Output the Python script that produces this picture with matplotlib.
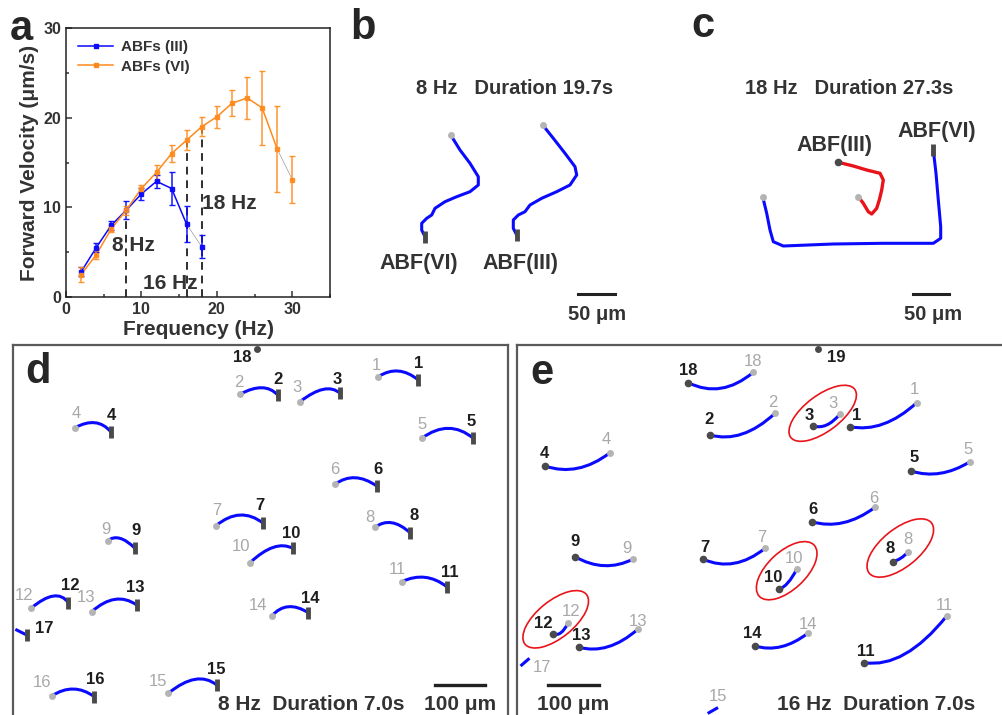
import matplotlib
matplotlib.use("Agg")
import matplotlib.pyplot as plt
from matplotlib import font_manager
from matplotlib.patches import Ellipse, PathPatch
from matplotlib.path import Path
from matplotlib.ticker import MultipleLocator

names = {f.name for f in font_manager.fontManager.ttflist}
SANS = 'Liberation Sans' if 'Liberation Sans' in names else 'DejaVu Sans'
plt.rcParams['font.family'] = [SANS, 'DejaVu Sans']

W, H = 1002, 715
TXT = '#333333'
BLUE = '#0a0aff'
ORANGE = '#ff8a1c'
RED = '#e8141a'
GRAY_END = '#b4b4b4'
DARK_END = '#4a4a4a'

# ---- panel a : forward velocity vs frequency
freq_iii = [2, 4, 6, 8, 10, 12, 14, 16, 18]
vel_iii = [2.8, 5.5, 8.0, 9.7, 11.5, 12.9, 12.1, 8.1, 5.6]
err_iii = [0.5, 0.5, 0.5, 1.0, 0.7, 0.7, 1.8, 2.0, 1.3]
freq_vi = [2, 4, 6, 8, 10, 12, 14, 16, 18, 20, 22, 24, 26, 28, 30]
vel_vi = [2.5, 4.7, 7.6, 9.7, 12.1, 13.9, 16.0, 17.5, 19.0, 20.1, 21.6, 22.2, 21.1, 16.5, 13.1]
err_vi = [0.8, 0.5, 0.4, 0.5, 0.4, 0.8, 0.95, 1.1, 1.1, 1.25, 1.45, 2.3, 4.1, 4.8, 2.6]
marked_freq = [8, 16, 18]

# ---- panel b / c : trajectories (image pixels)
b_vi = [(450.7, 135), (460, 150), (470, 163.3), (478.3, 176.7), (478.3, 185), (470, 191.7),
        (456.7, 196.7), (445, 201.7), (435, 208.3), (431.7, 215), (426.7, 218.3),
        (421.7, 223.3), (421.7, 230), (425, 236.7)]
b_iii = [(542.7, 125), (553.3, 138.3), (565, 153.3), (575, 166.7), (576.7, 175), (570, 185),
         (556.7, 191.7), (541.7, 198.3), (530, 205), (525, 211.7), (518.3, 215),
         (513.3, 220), (513.3, 228.3), (516.7, 235)]
c_vi = [(762.7, 196.7), (766.7, 213.3), (770, 230), (773.3, 241.7), (783.3, 246), (833.3, 244),
        (883.3, 243.3), (933.3, 243.3), (940.7, 238.3), (940.7, 226.7), (938.3, 200),
        (936, 173.3), (933.3, 150)]
c_iii = [(838.3, 162.3), (853.3, 166), (866.7, 170), (880, 173.3), (883.3, 180), (881.7, 190),
         (879.3, 200), (876.7, 208.3), (871.7, 214), (868.3, 211.7), (863.3, 203.3),
         (858.3, 196.7)]

# ---- panel d : 8 Hz, gray = start, dark = end
d_ids = ['1', '2', '3', '4', '5', '6', '7', '8', '9', '10', '11', '12', '13', '14', '15', '16']
d_start = [(378.3, 376.7), (240, 394.3), (300, 401.7), (75, 427.7), (421.7, 438.3), (335, 484.3),
           (216, 525.7), (375, 527.3), (107.7, 540.7), (250, 562.7), (401.7, 581.7), (31, 608.3),
           (91.7, 611.7), (271.7, 616), (168.3, 693.3), (51.7, 696)]
d_mid = [(398.3, 371), (261.7, 387.7), (323.3, 389.3), (95, 422.7), (448.3, 428.3), (355, 477.7),
         (240, 515), (391.7, 522.7), (120, 538.3), (273.3, 547.3), (425, 577.3), (53.3, 596),
         (115, 599.3), (288.3, 606.7), (195, 679.3), (73.3, 689)]
d_end = [(418.3, 380), (277.7, 395), (340, 393.3), (110.7, 431.7), (473.3, 438.3), (376.7, 486),
         (263.3, 523.3), (410, 532.7), (135, 548.3), (292.7, 548.3), (446.7, 586.7), (68.3, 602.7),
         (136.7, 605), (308.3, 612.7), (216.7, 685), (94.3, 696.7)]
d_start_lbl = [(376, 366), (239.3, 382.7), (296.7, 387.3), (76, 414), (421.7, 424.3), (334.3, 470),
               (216.7, 510.7), (370, 517.3), (105.7, 529), (240.7, 546.7), (397.7, 570), (24.3, 595.7),
               (86, 597.7), (258.3, 605.7), (158.3, 681.7), (41.7, 682.7)]
d_end_lbl = [(418.3, 363.3), (277.7, 379.3), (337.7, 379.3), (111.7, 416), (471, 421), (377.7, 470),
             (260, 505), (414.3, 515.7), (135.7, 530.7), (290.7, 534), (450, 572.7), (70.7, 586),
             (135.7, 587.3), (310, 598.3), (216, 669.3), (95, 680)]

# ---- panel e : 16 Hz, dark = start, gray = end
e_ids = ['18', '2', '3', '1', '4', '5', '6', '9', '7', '10', '8', '12', '13', '14', '11']
e_start = [(688.3, 382.7), (710, 435), (813.3, 426), (850, 426.7), (545, 466), (911, 471),
           (811.7, 521.7), (575, 556.7), (703.3, 559.3), (779.3, 589.3), (892.7, 561.7),
           (553.3, 634), (579, 647.3), (755, 646), (864.3, 662.7)]
e_mid = [(721, 388.3), (742.3, 434), (826.7, 425), (883.3, 424), (577.7, 468.3), (940.3, 473.3),
         (843.3, 522.7), (604.3, 565.7), (734.3, 563.3), (788, 582.7), (900.7, 558.3),
         (561, 632.7), (608.3, 646.7), (781.3, 646.7), (905, 654)]
e_end = [(753.3, 372.3), (775, 413.3), (840, 414), (916.7, 402.7), (610, 452.7), (970, 461.7),
         (875, 507.3), (633.3, 559), (765, 548.3), (796.7, 569.3), (908.3, 551.7),
         (568.3, 622.7), (637.7, 629.3), (807.7, 633.3), (946.7, 616)]
e_start_lbl = [(688.3, 370.7), (709, 420), (809, 415), (856.7, 415), (544.3, 453.3), (914, 457.7),
               (812.7, 510), (575, 541.7), (705, 547.7), (773.3, 577.7), (890, 548.3),
               (543.3, 623.3), (581.7, 636), (752.7, 633.3), (866, 651.7)]
e_end_lbl = [(753.3, 361.7), (772.7, 402.3), (832.7, 404), (914.3, 390), (606.7, 439.3), (968.3, 450),
             (873.3, 498.3), (627.3, 548.3), (761.7, 537.3), (794.3, 558.3), (907.7, 540),
             (571, 611.7), (637.7, 621.7), (808.3, 624.3), (944, 605)]
# stalled robots circled in red: center, length, width, tilt
e_circled = [((822.7, 413.3), 80, 36, 37), ((786.7, 570.7), 75, 38, 43),
             ((900.3, 548.0), 80, 38, 39), ((555.7, 619.3), 79, 37, 39)]

fig = plt.figure(figsize=(W / 100, H / 100), dpi=100)


def px_axes(x0, y0, x1, y1, frame=()):
    ax = fig.add_axes([x0 / W, 1 - y1 / H, (x1 - x0) / W, (y1 - y0) / H])
    ax.set_xlim(x0, x1)
    ax.set_ylim(y1, y0)
    ax.set_xticks([])
    ax.set_yticks([])
    ax.patch.set_alpha(0)
    for side, sp in ax.spines.items():
        sp.set_visible(side in frame)
        sp.set_color('#5a5a5a')
        sp.set_linewidth(1.6)
    return ax


def quad(ax, p0, pm, p1, color):
    ctrl = (2 * pm[0] - (p0[0] + p1[0]) / 2, 2 * pm[1] - (p0[1] + p1[1]) / 2)
    path = Path([p0, ctrl, p1], [Path.MOVETO, Path.CURVE3, Path.CURVE3])
    ax.add_patch(PathPatch(path, fill=False, edgecolor=color, lw=2.2, capstyle='round', zorder=2))


def ends(ax, start, end, start_col, end_col, bar=False):
    ax.plot(*start, 'o', color=start_col, ms=5, mec='none', zorder=3)
    if bar:
        ax.plot(*end, '|', color=end_col, ms=8, mew=3.5, zorder=3)
    else:
        ax.plot(*end, 'o', color=end_col, ms=5.5, mec='none', zorder=3)


# ================= panel a
ax = fig.add_axes([66 / W, 1 - 297 / H, 264 / W, 269 / H])
ax.plot(freq_iii[:-1], vel_iii[:-1], '-', color=BLUE, lw=1.1, zorder=3)
ax.plot(freq_iii[-2:], vel_iii[-2:], '-', color='#9a9a9a', lw=0.5, zorder=2)
ax.errorbar(freq_iii, vel_iii, yerr=err_iii, fmt='s', color=BLUE, ms=3.5, ecolor=BLUE,
            elinewidth=1.1, capsize=2, alpha=0.95, zorder=4)
ax.plot(freq_vi[:-1], vel_vi[:-1], '-', color=ORANGE, lw=1.1, zorder=3)
ax.plot(freq_vi[-2:], vel_vi[-2:], '-', color='#9a9a9a', lw=0.5, zorder=2)
ax.errorbar(freq_vi, vel_vi, yerr=err_vi, fmt='s', color=ORANGE, ms=3.5, ecolor=ORANGE,
            elinewidth=1.1, capsize=2, alpha=0.9, zorder=4)
for f in marked_freq:
    ax.plot([f, f], [0, vel_vi[freq_vi.index(f)]], color='#2e2e2e', lw=1.4, ls=(0, (4, 3)), zorder=1)
ax.text(9.0, 5.7, '8 Hz', color=TXT, fontsize=15, fontweight='bold', ha='center', va='center')
ax.text(13.8, 1.55, '16 Hz', color=TXT, fontsize=15, fontweight='bold', ha='center', va='center')
ax.text(21.7, 10.4, '18 Hz', color=TXT, fontsize=15, fontweight='bold', ha='center', va='center')
h1, = ax.plot([], [], '-s', color=BLUE, lw=1.1, ms=3)
h2, = ax.plot([], [], '-s', color=ORANGE, lw=1.1, ms=3)
ax.legend([h1, h2], ['ABFs (III)', 'ABFs (VI)'], loc='upper left', frameon=False,
          prop={'size': 11, 'weight': 'bold'}, handlelength=2.3, handletextpad=0.5,
          labelspacing=0.35, borderaxespad=0.4, labelcolor=TXT)
ax.set_xlim(0, 35)
ax.set_ylim(0, 30)
ax.xaxis.set_major_locator(MultipleLocator(10))
ax.xaxis.set_minor_locator(MultipleLocator(5))
ax.yaxis.set_major_locator(MultipleLocator(10))
ax.yaxis.set_minor_locator(MultipleLocator(5))
ax.tick_params(which='both', direction='in', labelsize=11.5, colors=TXT, width=1.1)
ax.tick_params(which='major', length=4)
ax.tick_params(which='minor', length=2.5)
for lab in ax.get_xticklabels() + ax.get_yticklabels():
    lab.set_fontweight('bold')
for sp in ax.spines.values():
    sp.set_linewidth(1.1)
    sp.set_color('#222222')
ax.set_xlabel('Frequency (Hz)', fontsize=15, fontweight='bold', color=TXT, labelpad=2)
ax.set_ylabel('Forward Velocity (μm/s)', fontsize=15, fontweight='bold', color=TXT, labelpad=3)

# ================= panel b
axb = px_axes(340, 0, 680, 340)
for traj in (b_vi, b_iii):
    xs, ys = zip(*traj)
    axb.plot(xs, ys, color=BLUE, lw=2.2, solid_capstyle='round', solid_joinstyle='round')
    ends(axb, traj[0], traj[-1], GRAY_END, DARK_END, bar=True)
axb.text(515, 88, '8 Hz   Duration 19.7s', fontsize=14.5, fontweight='bold', color=TXT, ha='center', va='center')
axb.text(418.3, 263.3, 'ABF(VI)', fontsize=15.5, fontweight='bold', color=TXT, ha='center', va='center')
axb.text(520.7, 263.3, 'ABF(III)', fontsize=15.5, fontweight='bold', color=TXT, ha='center', va='center')
axb.plot([578.3, 578.3 + 36.7], [293.5, 293.5], color='#222222', lw=2.2)
axb.text(596.7, 315, '50 μm', fontsize=14.5, fontweight='bold', color=TXT, ha='center', va='center')

# ================= panel c
axc = px_axes(680, 0, 1002, 340)
xs, ys = zip(*c_vi)
axc.plot(xs, ys, color=BLUE, lw=2.2, solid_capstyle='round', solid_joinstyle='round')
ends(axc, c_vi[0], c_vi[-1], GRAY_END, DARK_END, bar=True)
xs, ys = zip(*c_iii)
axc.plot(xs, ys, color=RED, lw=2.4, solid_capstyle='round', solid_joinstyle='round')
ends(axc, c_iii[-1], c_iii[0], GRAY_END, DARK_END)
axc.text(849, 88, '18 Hz   Duration 27.3s', fontsize=14.5, fontweight='bold', color=TXT, ha='center', va='center')
axc.text(834, 145, 'ABF(III)', fontsize=15.5, fontweight='bold', color=TXT, ha='center', va='center')
axc.text(936.7, 131.7, 'ABF(VI)', fontsize=15.5, fontweight='bold', color=TXT, ha='center', va='center')
axc.plot([913.3, 913.3 + 36.0], [294.3, 294.3], color='#222222', lw=2.2)
axc.text(933.3, 315, '50 μm', fontsize=14.5, fontweight='bold', color=TXT, ha='center', va='center')

# ================= panel d
axd = px_axes(13, 345, 508, 740, frame=('left', 'top', 'right'))
for i, lab in enumerate(d_ids):
    quad(axd, d_start[i], d_mid[i], d_end[i], BLUE)
    ends(axd, d_start[i], d_end[i], GRAY_END, DARK_END, bar=True)
    axd.text(*d_start_lbl[i], lab, fontsize=12, color='#a8a8a8', ha='center', va='center')
    axd.text(*d_end_lbl[i], lab, fontsize=12, fontweight='bold', color='#1e1e1e', ha='center', va='center')
axd.plot([16.7, 26.7], [630, 635], color=BLUE, lw=2.2)
axd.plot(26.7, 635, '|', color=DARK_END, ms=8, mew=3.5)
axd.text(44.3, 628.3, '17', fontsize=12, fontweight='bold', color='#1e1e1e', ha='center', va='center')
axd.plot(256.7, 348.5, 'o', color=DARK_END, ms=5, mec='none')
axd.text(242.7, 357.3, '18', fontsize=12, fontweight='bold', color='#1e1e1e', ha='center', va='center')
axd.text(311, 704, '8 Hz  Duration 7.0s', fontsize=15, fontweight='bold', color=TXT, ha='center', va='center')
axd.plot([435, 485], [685, 685], color='#222222', lw=2.4)
axd.text(460, 705, '100 μm', fontsize=15, fontweight='bold', color=TXT, ha='center', va='center')

# ================= panel e
axe = px_axes(517, 345, 1010, 740, frame=('left', 'top'))
for i, lab in enumerate(e_ids):
    quad(axe, e_start[i], e_mid[i], e_end[i], BLUE)
    ends(axe, e_end[i], e_start[i], GRAY_END, DARK_END)
    axe.text(*e_start_lbl[i], lab, fontsize=12, fontweight='bold', color='#1e1e1e', ha='center', va='center')
    axe.text(*e_end_lbl[i], lab, fontsize=12, color='#a8a8a8', ha='center', va='center')
for (cx, cy), lw_, hw_, tilt in e_circled:
    axe.add_patch(Ellipse((cx, cy), lw_, hw_, angle=-tilt, fill=False, edgecolor=RED, lw=1.2, zorder=4))
axe.plot([521.7, 528.3], [665, 659.3], color=BLUE, lw=2.2)
axe.text(541.7, 667.7, '17', fontsize=12, color='#a8a8a8', ha='center', va='center')
axe.plot([709, 716.7], [712.7, 708.3], color=BLUE, lw=2.2)
axe.text(718.3, 696.7, '15', fontsize=12, color='#a8a8a8', ha='center', va='center')
axe.plot(818.3, 348.5, 'o', color=DARK_END, ms=5, mec='none')
axe.text(836, 357.3, '19', fontsize=12, fontweight='bold', color='#1e1e1e', ha='center', va='center')
axe.text(876.5, 704, '16 Hz  Duration 7.0s', fontsize=15, fontweight='bold', color=TXT, ha='center', va='center')
axe.plot([548, 599], [685, 685], color='#222222', lw=2.4)
axe.text(573, 705, '100 μm', fontsize=15, fontweight='bold', color=TXT, ha='center', va='center')

# panel letters
for letter, x, y in [('a', 21.7, 29), ('b', 363, 28), ('c', 703, 26), ('d', 38, 372), ('e', 542, 373)]:
    fig.text(x / W, 1 - y / H, letter, fontsize=30, fontweight='bold', color='#262626', ha='center', va='center')

fig.savefig('out.png', dpi=100)
